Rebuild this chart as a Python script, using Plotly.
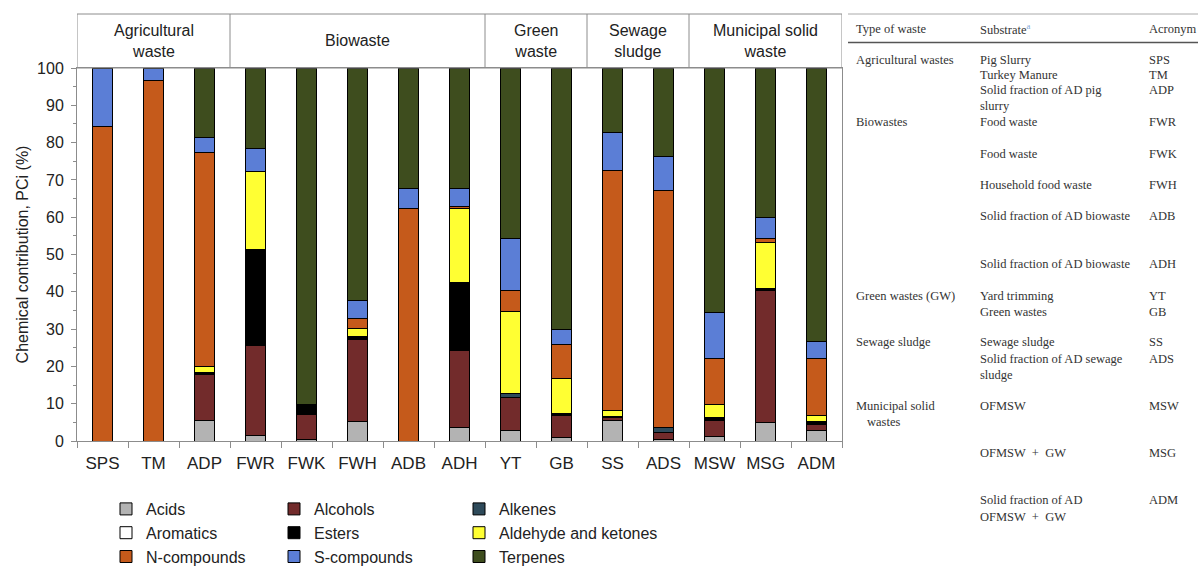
import plotly.graph_objects as go

W, H = 1198, 568

categories = ["SPS", "TM", "ADP", "FWR", "FWK", "FWH", "ADB", "ADH", "YT", "GB", "SS", "ADS", "MSW", "MSG", "ADM"]

acids      = [0, 0, 5.5, 1.6, 0.3, 5.2, 0, 3.6, 2.7, 0.9, 5.5, 0.3, 1.3, 4.9, 2.7]
alcohols   = [0, 0, 12.4, 24.1, 6.7, 22.1, 0, 20.6, 8.9, 6.0, 0.8, 1.9, 4.1, 35.5, 1.8]
alkenes    = [0, 0, 0, 0, 0, 0, 0, 0, 1.2, 0, 0, 1.5, 0, 0, 0]
aromatics  = [0, 0, 0, 0, 0, 0, 0, 0, 0, 0, 0, 0, 0, 0, 0]
esters     = [0, 0, 0.6, 25.7, 2.8, 0.7, 0, 18.3, 0, 0.5, 0.4, 0, 0.9, 0.6, 0.7]
aldehydes  = [0, 0, 1.6, 20.9, 0, 2.1, 0, 19.8, 21.9, 9.4, 1.6, 0, 3.5, 12.3, 1.6]
n_compounds = [84.2, 96.6, 57.3, 0, 0, 2.8, 62.2, 0.6, 5.6, 9.2, 64.3, 63.5, 12.2, 0.9, 15.4]
s_compounds = [15.8, 3.4, 4.1, 6.2, 0, 4.8, 5.6, 4.7, 13.9, 4.0, 10.2, 9.1, 12.4, 5.7, 4.5]
terpenes   = [0, 0, 18.5, 21.5, 90.2, 62.3, 32.2, 32.4, 45.8, 70.0, 17.2, 23.7, 65.6, 40.1, 73.3]

series_names = ["Acids", "Alcohols", "Alkenes", "Aromatics", "Esters", "Aldehyde and ketones",
                "N-compounds", "S-compounds", "Terpenes"]
series_values = [acids, alcohols, alkenes, aromatics, esters, aldehydes, n_compounds, s_compounds, terpenes]
series_colors = ["#b3b3b3", "#722b2b", "#2e4a5a", "#ffffff", "#000000", "#ffff33",
                 "#c55a1b", "#5b7ed6", "#3e4d1e"]
legend_ids = ["legend", "legend2", "legend3"]

groups = ["Agricultural<br>waste", "Biowaste", "Green<br>waste", "Sewage<br>sludge", "Municipal solid<br>waste"]
group_sizes = [3, 5, 2, 2, 3]

table_header = ["Type of waste", "Substrate<sup><span style='color:#7fa8d8'>a</span></sup>", "Acronym"]
table_types = [("Agricultural wastes", 60), ("Biowastes", 122), ("Green wastes (GW)", 296),
               ("Sewage sludge", 342), ("Municipal solid", 406)]
table_substrates = [("Pig Slurry", 60), ("Turkey Manure", 75), ("Solid fraction of AD pig", 90), ("slurry", 106),
                    ("Food waste", 122), ("Food waste", 154), ("Household food waste", 185),
                    ("Solid fraction of AD biowaste", 216), ("Solid fraction of AD biowaste", 264),
                    ("Yard trimming", 296), ("Green wastes", 312), ("Sewage sludge", 342),
                    ("Solid fraction of AD sewage", 359), ("sludge", 375), ("OFMSW", 406),
                    ("OFMSW  +  GW", 453), ("Solid fraction of AD", 500), ("OFMSW  +  GW", 517)]
table_acronyms = [("SPS", 60), ("TM", 75), ("ADP", 90), ("FWR", 122), ("FWK", 154), ("FWH", 185),
                  ("ADB", 216), ("ADH", 264), ("YT", 296), ("GB", 312), ("SS", 342), ("ADS", 359),
                  ("MSW", 406), ("MSG", 453), ("ADM", 500)]


def px(x):
    return x / W


def py(y):
    return 1 - y / H


fig = go.Figure()
for i, (name, vals, col) in enumerate(zip(series_names, series_values, series_colors)):
    fig.add_trace(go.Bar(
        x=categories, y=vals, name=name,
        marker=dict(color=col, line=dict(color="#000000", width=1)),
        legend=legend_ids[i % 3],
    ))

AX = "#8c8c8c"
FONT = "Liberation Sans, Arial, sans-serif"

x0p, x1p = 77, 842
ytop, ybot = 68, 441
fig.update_layout(
    width=W, height=H,
    margin=dict(l=0, r=0, t=0, b=0, autoexpand=False),
    barmode="stack",
    bargap=0.59,
    plot_bgcolor="white", paper_bgcolor="white",
    font=dict(family=FONT, size=16, color="#222"),
    xaxis=dict(domain=[px(x0p), px(x1p)], showline=True, linecolor=AX, linewidth=1, mirror=True,
               ticks="outside", tickson="boundaries", ticklen=6, tickcolor=AX, automargin=False,
               ticklabelstandoff=7,
               tickfont=dict(size=17, color="#222"), showgrid=False, range=[-0.5, 14.5]),
    yaxis=dict(domain=[py(ybot), py(ytop)], range=[0, 100], dtick=10, showline=True, linecolor=AX,
               linewidth=1, mirror=True, ticks="outside", ticklen=5, tickcolor=AX, showgrid=False,
               tickfont=dict(size=16, color="#222"), automargin=False, ticklabelstandoff=4,
               minor=dict(dtick=5, ticks="outside", ticklen=3, tickcolor=AX),
               title=dict(text="Chemical contribution, PCi (%)", font=dict(size=16, color="#222"), standoff=4)),
)

leg_cols_x = [106, 274, 459]
for lid, lx in zip(legend_ids, leg_cols_x):
    fig.update_layout({lid: dict(x=px(lx), y=py(492), xanchor="left", yanchor="top",
                                 orientation="v", traceorder="normal",
                                 font=dict(size=16, color="#222", family=FONT),
                                 bgcolor="rgba(0,0,0,0)", tracegroupgap=0)})

# group header boxes
shapes = []
shapes.append(dict(type="rect", xref="x", yref="paper", x0=-0.5, x1=14.5, y0=py(ytop), y1=py(14),
                   line=dict(color=AX, width=1)))
start = -0.5
for g, n in zip(groups, group_sizes):
    end = start + n
    if end < 14.5:
        shapes.append(dict(type="line", xref="x", yref="paper", x0=end, x1=end, y0=py(ytop), y1=py(14),
                           line=dict(color=AX, width=1)))
    fig.add_annotation(x=(start + end) / 2, y=py(41), xref="x", yref="paper", text=g, showarrow=False,
                       font=dict(size=16, color="#222"), xanchor="center", yanchor="middle")
    start = end

# table lines
shapes.append(dict(type="line", xref="paper", yref="paper", x0=px(848), x1=1, y0=py(14), y1=py(14),
                   line=dict(color="#aaaaaa", width=1)))
shapes.append(dict(type="line", xref="paper", yref="paper", x0=px(848), x1=1, y0=py(42.5), y1=py(42.5),
                   line=dict(color="#555555", width=1.5)))
fig.update_layout(shapes=shapes)

TF = dict(family="Liberation Serif, Times New Roman, serif", size=12.5, color="#333")
cols_x = [854, 978, 1147]
for t, cx in zip(table_header, cols_x):
    fig.add_annotation(x=px(cx), y=py(29), xref="paper", yref="paper", text=t, showarrow=False,
                       xanchor="left", yanchor="middle", font=TF)
for items, cx in zip([table_types, table_substrates, table_acronyms], cols_x):
    for t, yy in items:
        fig.add_annotation(x=px(cx), y=py(yy), xref="paper", yref="paper", text=t, showarrow=False,
                           xanchor="left", yanchor="middle", font=TF)
fig.add_annotation(x=px(865), y=py(422), xref="paper", yref="paper", text="wastes", showarrow=False,
                   xanchor="left", yanchor="middle", font=TF)

fig.write_html("out.html", config={"displayModeBar": False},
               post_script="document.body.style.margin='0';document.body.style.overflow='hidden';")
